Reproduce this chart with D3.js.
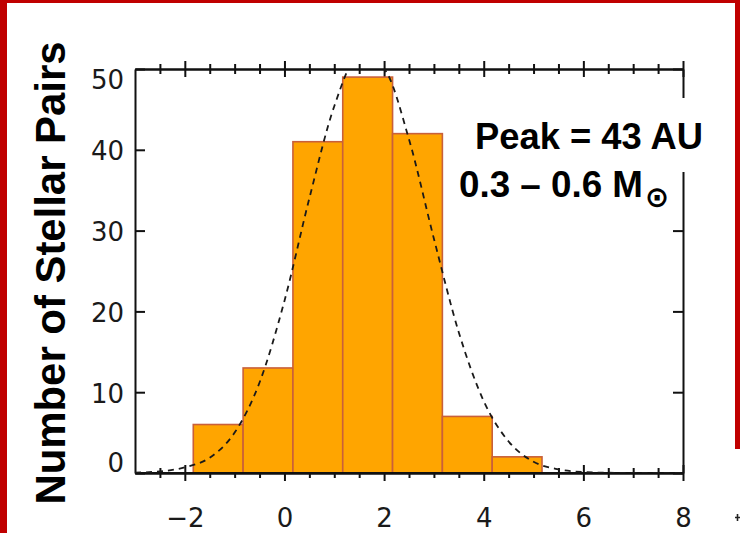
<!DOCTYPE html>
<html>
<head>
<meta charset="utf-8">
<script src="https://cdn.jsdelivr.net/npm/d3@7"></script>
<style>
  html, body { margin: 0; padding: 0; background: #fff; }
  svg { display: block; }
</style>
</head>
<body>
<svg id="chart" width="740" height="533"></svg>
<script>
// Histogram of projected separations (log AU) for 0.3–0.6 solar-mass pairs
const binLeft  = [-1.83, -0.83, 0.17, 1.17, 2.17, 3.17, 4.17];
const binRight = [-0.83, 0.17, 1.17, 2.17, 3.17, 4.17, 5.17];
const counts   = [6, 13, 41, 49, 42, 7, 2];

// Fitted log-normal profile (dashed)
const fitX = [-3, -2.5, -2, -1.5, -1, -0.5, 0, 0.5, 1, 1.5, 2, 2.5, 3, 3.5, 4, 4.5, 5, 5.5, 6, 6.5, 7, 7.5, 8];
const fitY = [0.05, 0.2, 0.7, 1.9, 5.0, 11.2, 21.3, 34.0, 45.4, 51.6, 50.0, 41.3, 29.0, 17.4, 8.9, 3.9, 1.4, 0.45, 0.12, 0.03, 0, 0, 0];

// Axis ticks
const xMajor = [-2, 0, 2, 4, 6, 8];
const xMinor = [-2.5, -1.5, -1, -0.5, 0.5, 1, 1.5, 2.5, 3, 3.5, 4.5, 5, 5.5, 6.5, 7, 7.5];
const yMajor = [0, 10, 20, 30, 40, 50];

const yTitle = "Number of Stellar Pairs";
const peakText = "Peak = 43 AU";
const massText = "0.3 – 0.6 M";
const sunSymbol = "⊙";

const svg = d3.select("#chart");
const W = 740, H = 533;
const plot = { left: 135, right: 683, top: 69, bottom: 473 };

const x = d3.scaleLinear().domain([-3, 8]).range([plot.left, plot.right]);
const y = d3.scaleLinear().domain([0, 50]).range([plot.bottom, plot.top]);

svg.append("rect").attr("width", W).attr("height", H).attr("fill", "#fff");

const tickFont = "'DejaVu Sans', sans-serif";
const ink = "#111";

function styleAxis(g) {
  g.select(".domain").attr("stroke", ink).attr("stroke-width", 2);
  g.selectAll(".tick line").attr("stroke", ink).attr("stroke-width", 2);
  g.selectAll(".tick text").attr("font-family", tickFont).attr("font-size", 26).attr("fill", "#1a1a1a");
}

// Bottom and top axes: ticks straddle the line
function horizAxis(yPos, vals, half, labels) {
  const ax = d3.axisBottom(x).tickValues(vals).tickSizeOuter(0).tickSize(0)
    .tickFormat(labels ? (d => (d < 0 ? "\u2212" + Math.abs(d) : String(d))) : "");
  const g = svg.append("g").attr("transform", `translate(0,${yPos})`).call(ax);
  styleAxis(g);
  g.selectAll(".tick line").attr("y1", -half).attr("y2", half);
  return g;
}
const bottomMajor = horizAxis(plot.bottom, xMajor, 8, true);
bottomMajor.selectAll(".tick text").attr("dy", null).attr("y", 54);
horizAxis(plot.bottom, xMinor, 5, false);
horizAxis(plot.top, xMajor, 8, false);
horizAxis(plot.top, xMinor, 5, false);

// Left axis with inward ticks
const leftG = svg.append("g").attr("transform", `translate(${plot.left},0)`)
  .call(d3.axisLeft(y).tickValues(yMajor).tickSizeOuter(0).tickSizeInner(-10));
styleAxis(leftG);
leftG.selectAll(".tick text")
  .attr("x", -11)
  .attr("dy", d => d === 50 ? "0.74em" : d === 0 ? "-0.04em" : "0.38em");

// Right axis with inward ticks
const rightG = svg.append("g").attr("transform", `translate(${plot.right},0)`)
  .call(d3.axisRight(y).tickValues(yMajor).tickSizeOuter(0).tickSizeInner(-10).tickFormat(""));
styleAxis(rightG);

// Histogram bars
svg.append("g").selectAll("rect")
  .data(counts)
  .join("rect")
  .attr("x", (d, i) => x(binLeft[i]))
  .attr("y", d => y(d))
  .attr("width", (d, i) => x(binRight[i]) - x(binLeft[i]))
  .attr("height", d => y(0) - y(d))
  .attr("fill", "#FFA500")
  .attr("stroke", "#c9603a")
  .attr("stroke-width", 1.6);

// Baseline redrawn over the bar bottoms
svg.append("line")
  .attr("x1", x(-3)).attr("x2", x(8))
  .attr("y1", y(0)).attr("y2", y(0))
  .attr("stroke", ink).attr("stroke-width", 2);

// Dashed fit curve, clipped to the frame
svg.append("clipPath").attr("id", "frame")
  .append("rect")
  .attr("x", plot.left).attr("y", plot.top)
  .attr("width", plot.right - plot.left).attr("height", plot.bottom - plot.top);

const line = d3.line()
  .x(d => x(d[0]))
  .y(d => y(d[1]))
  .curve(d3.curveMonotoneX);

svg.append("path")
  .datum(fitX.map((v, i) => [v, fitY[i]]))
  .attr("d", line)
  .attr("clip-path", "url(#frame)")
  .attr("fill", "none")
  .attr("stroke", "#1a1a1a")
  .attr("stroke-width", 1.8)
  .attr("stroke-dasharray", "6,5");

// Annotation box
svg.append("rect")
  .attr("x", 450).attr("y", 98)
  .attr("width", 262).attr("height", 74)
  .attr("fill", "#fff");

const boldFont = "'Liberation Sans', Arial, sans-serif";
svg.append("text")
  .attr("x", 475).attr("y", 149)
  .attr("font-family", boldFont).attr("font-weight", "bold").attr("font-size", 36)
  .attr("textLength", 228).attr("lengthAdjust", "spacingAndGlyphs")
  .attr("fill", "#000")
  .text(peakText);

svg.append("text")
  .attr("x", 459).attr("y", 197)
  .attr("font-family", boldFont).attr("font-weight", "bold").attr("font-size", 36)
  .attr("textLength", 184).attr("lengthAdjust", "spacingAndGlyphs")
  .attr("fill", "#000")
  .text(massText);

svg.append("text")
  .attr("x", 657).attr("y", 207)
  .attr("text-anchor", "middle")
  .attr("font-family", "'DejaVu Sans', sans-serif").attr("font-weight", "bold").attr("font-size", 29)
  .attr("fill", "#000")
  .text(sunSymbol);

// Y axis title
svg.append("text")
  .attr("transform", "translate(65,273) rotate(-90)")
  .attr("text-anchor", "middle")
  .attr("font-family", boldFont).attr("font-weight", "bold").attr("font-size", 42)
  .attr("textLength", 463).attr("lengthAdjust", "spacingAndGlyphs")
  .attr("fill", "#000")
  .text(yTitle);

// Slide frame
const red = "#c00000";
svg.append("rect").attr("x", 0).attr("y", 0).attr("width", 7).attr("height", H).attr("fill", red);
svg.append("rect").attr("x", 0).attr("y", 0).attr("width", W).attr("height", 3).attr("fill", red);
svg.append("rect").attr("x", 735).attr("y", 0).attr("width", 5).attr("height", 449).attr("fill", red);

// Tick mark of the adjacent panel peeking in at the edge
svg.append("path")
  .attr("d", "M735,517.5H740M737.5,514V521")
  .attr("stroke", "#222").attr("stroke-width", 1.6);
</script>
</body>
</html>
